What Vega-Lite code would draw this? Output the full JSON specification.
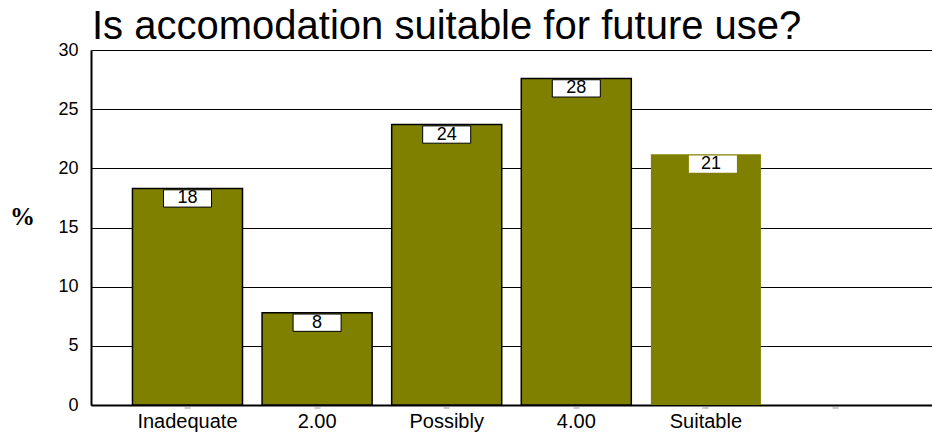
{
  "$schema": "https://vega.github.io/schema/vega-lite/v6.json",
  "width": 841,
  "height": 355,
  "autosize": {"type": "none"},
  "padding": {"left": 91, "top": 50, "right": 0, "bottom": 29},
  "background": "white",
  "title": {
    "text": "Is accomodation suitable for future use?",
    "anchor": "start",
    "frame": "group",
    "font": "Liberation Sans",
    "fontSize": 40,
    "fontWeight": "normal",
    "color": "black",
    "offset": 0,
    "dy": 6,
    "dx": 1
  },
  "config": {"view": {"stroke": null}},
  "data": {
    "values": [
      {"category": "Inadequate", "pct": 18.3},
      {"category": "2.00", "pct": 7.8},
      {"category": "Possibly", "pct": 23.7},
      {"category": "4.00", "pct": 27.6},
      {"category": "Suitable", "pct": 21.2}
    ]
  },
  "encoding": {
    "x": {
      "field": "category",
      "type": "nominal",
      "sort": null,
      "scale": {"domain": ["Inadequate", "2.00", "Possibly", "4.00", "Suitable", " "], "paddingInner": 0.151, "paddingOuter": 0.32},
      "axis": {
        "title": null,
        "labelAngle": 0,
        "labelFont": "Liberation Sans",
        "labelFontSize": 20,
        "labelColor": "black",
        "labelPadding": 2,
        "domainColor": "black",
        "domainWidth": 2,
        "tickColor": "#999999",
        "tickSize": 4,
        "tickWidth": 6,
        "tickDash": [0, 2, 1, 10],
        "encode": {"labels": {"update": {"dy": {"signal": "datum.value === 'Suitable' ? 5 : 0"}}}}
      }
    },
    "y": {
      "field": "pct",
      "type": "quantitative",
      "scale": {"domain": [0, 30], "nice": false},
      "axis": {
        "title": "%",
        "titleAngle": 0,
        "titleFont": "Liberation Serif",
        "titleFontSize": 25,
        "titleFontWeight": "bold",
        "titleColor": "black",
        "titleX": -69,
        "titleY": 166,
        "titleAlign": "center",
        "titleBaseline": "middle",
        "values": [0, 5, 10, 15, 20, 25, 30],
        "labelFont": "Liberation Sans",
        "labelFontSize": 18,
        "labelColor": "black",
        "labelPadding": 13,
        "ticks": false,
        "grid": true,
        "gridColor": "black",
        "gridWidth": 1.2,
        "gridOpacity": 1,
        "domainColor": "black",
        "domainWidth": 2
      }
    }
  },
  "layer": [
    {
      "mark": {"type": "bar", "fill": "#808000", "stroke": "black", "strokeWidth": 1.5},
      "encoding": {
        "strokeOpacity": {"condition": {"test": "datum.category === 'Suitable'", "value": 0}, "value": 1}
      }
    },
    {
      "mark": {
        "type": "point",
        "shape": "M-2.5,-0.9H2.5V0.9H-2.5Z",
        "filled": true,
        "fill": "white",
        "fillOpacity": 1,
        "stroke": "black",
        "strokeWidth": 1,
        "size": 369,
        "yOffset": 10,
        "xOffset": {"expr": "datum.category === 'Suitable' ? 7 : 0"}
      },
      "encoding": {
        "strokeOpacity": {"condition": {"test": "datum.category === 'Suitable'", "value": 0}, "value": 1}
      }
    },
    {
      "mark": {
        "type": "text",
        "font": "Liberation Sans",
        "fontSize": 18,
        "color": "black",
        "baseline": "middle",
        "align": "center",
        "yOffset": 10,
        "xOffset": {"expr": "datum.category === 'Suitable' ? 5 : 0"}
      },
      "encoding": {
        "text": {"field": "pct", "type": "quantitative", "format": ".0f"}
      }
    }
  ]
}
